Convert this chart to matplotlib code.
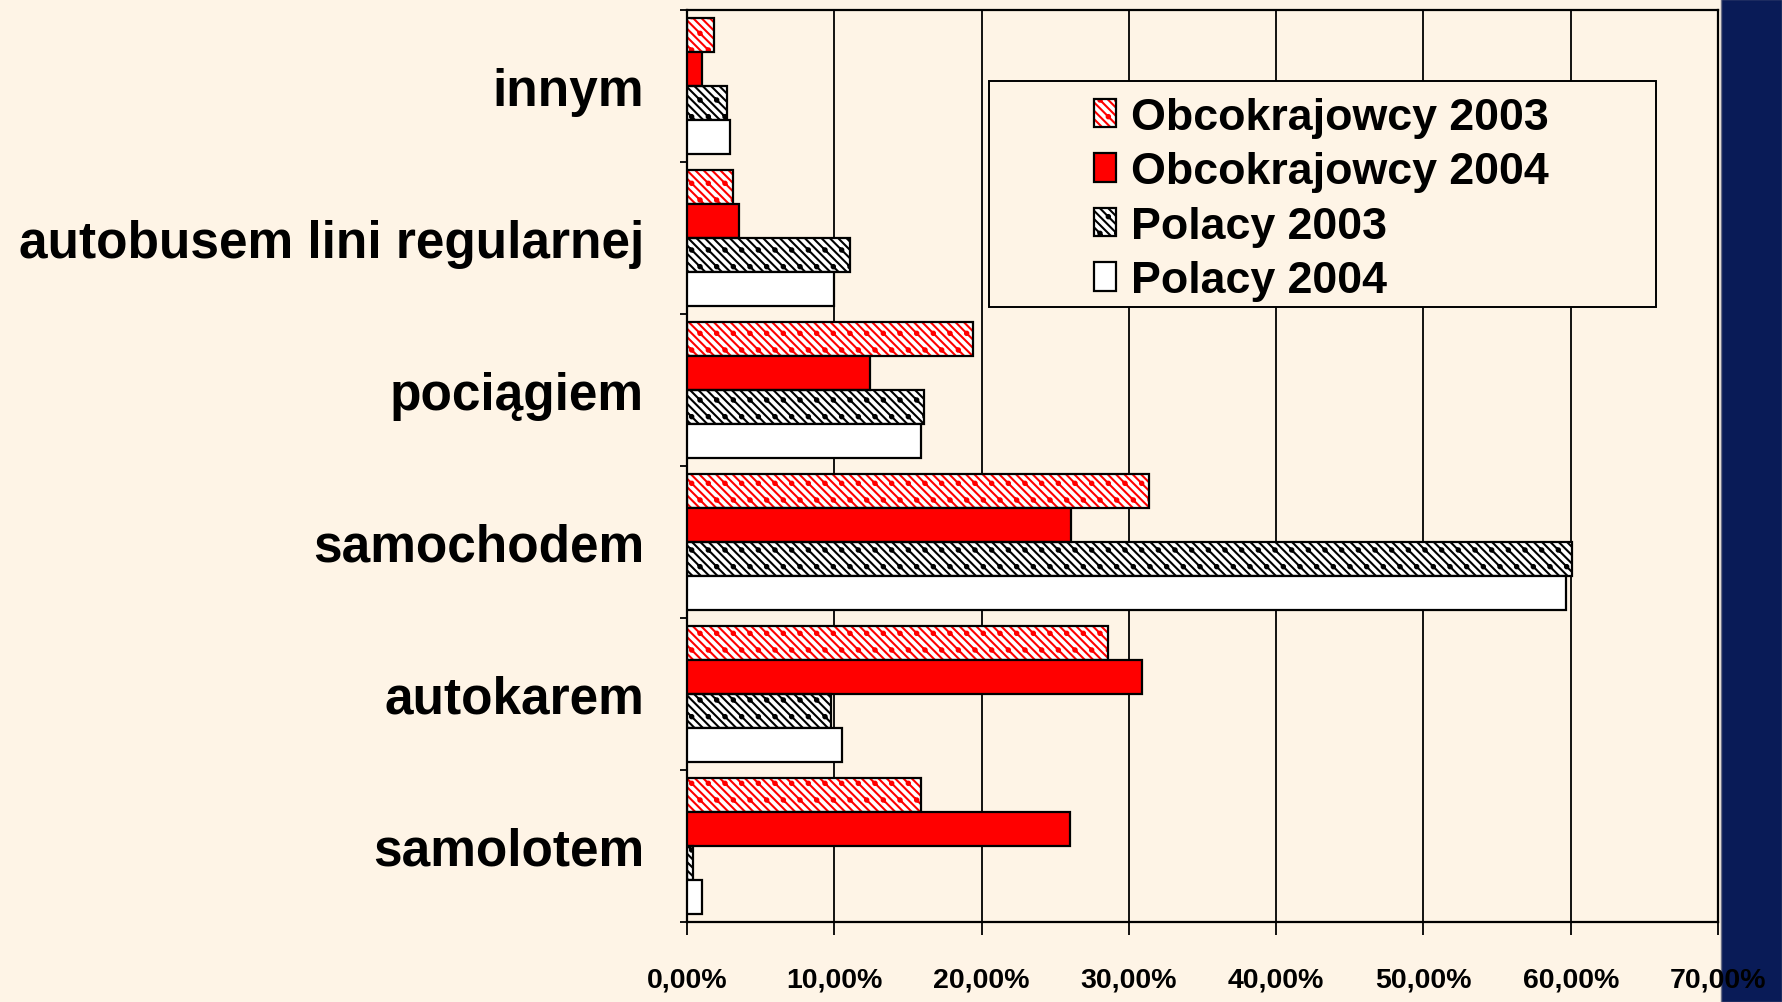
import numpy as np
import matplotlib
matplotlib.use("Agg")
import matplotlib.pyplot as plt
from matplotlib import font_manager as fm
from matplotlib.patches import Rectangle
from matplotlib.legend_handler import HandlerTuple

# ---------------- data ----------------
categories = ["samolotem", "autokarem", "samochodem", "pociągiem",
              "autobusem lini regularnej", "innym"]
obc_2003 = [15.9, 28.6, 31.4, 19.4, 3.1, 1.8]
obc_2004 = [26.0, 30.9, 26.1, 12.4, 3.5, 1.0]
pol_2003 = [0.4, 9.8, 60.1, 16.1, 11.1, 2.7]
pol_2004 = [1.0, 10.5, 59.7, 15.9, 10.0, 2.9]
series_labels = ["Obcokrajowcy 2003", "Obcokrajowcy 2004", "Polacy 2003", "Polacy 2004"]
x_ticks = [0, 10, 20, 30, 40, 50, 60, 70]
x_tick_labels = ["0,00%", "10,00%", "20,00%", "30,00%", "40,00%", "50,00%", "60,00%", "70,00%"]

# ---------------- fonts ----------------
def has_font(fam):
    try:
        fm.findfont(fm.FontProperties(family=fam, weight="bold"), fallback_to_default=False)
        return True
    except Exception:
        return False

if has_font("Liberation Sans Narrow"):
    FAM, K = "Liberation Sans Narrow", 1.0 / 0.82
else:
    FAM, K = "Liberation Sans", 1.0
plt.rcParams["font.family"] = [FAM, "DejaVu Sans"]
plt.rcParams["hatch.linewidth"] = 1.5

BG = "#FEF4E6"
NAVY = "#091B57"

W, H = 1782, 1003
fig = plt.figure(figsize=(W / 100, H / 100), dpi=100, facecolor=BG)
ax = fig.add_axes([687 / W, 1 - 923 / H, (1718 - 687) / W, (923 - 11) / H])
ax.set_facecolor(BG)

# dark strip on the right
fig.add_artist(Rectangle((1721 / W, 0), 1 - 1721 / W, 1, transform=fig.transFigure,
                         facecolor=NAVY, edgecolor="#6b6f86", lw=1.0, zorder=-1))

y = np.arange(len(categories))
h = 0.224
offs = [1.5 * h, 0.5 * h, -0.5 * h, -1.5 * h]
EW = 1.6
HATCH = "\\\\\\\\."

# Obcokrajowcy 2003: red hatched
b1h = ax.barh(y + offs[0], obc_2003, height=h, facecolor="white", edgecolor="red",
              hatch=HATCH, linewidth=0, zorder=2)
b1e = ax.barh(y + offs[0], obc_2003, height=h, fill=False, edgecolor="black",
              linewidth=EW, zorder=3)
# Obcokrajowcy 2004: solid red
b2 = ax.barh(y + offs[1], obc_2004, height=h, facecolor="red", edgecolor="black",
             linewidth=EW, zorder=3)
# Polacy 2003: black hatched
b3h = ax.barh(y + offs[2], pol_2003, height=h, facecolor="white", edgecolor="black",
              hatch=HATCH, linewidth=0, zorder=2)
b3e = ax.barh(y + offs[2], pol_2003, height=h, fill=False, edgecolor="black",
              linewidth=EW, zorder=3)
# Polacy 2004: white
b4 = ax.barh(y + offs[3], pol_2004, height=h, facecolor="white", edgecolor="black",
             linewidth=EW, zorder=3)

ax.set_xlim(0, 70)
ax.set_ylim(-0.5, len(categories) - 0.5)

ax.set_xticks(x_ticks)
ax.set_xticklabels(x_tick_labels, fontsize=20.5 * K, fontweight="bold")
ax.tick_params(axis="x", direction="out", length=9, width=1.3, pad=23, colors="black")

ax.set_yticks(y)
ax.set_yticklabels(categories, fontsize=37 * K, fontweight="bold")
ax.tick_params(axis="y", which="major", length=0, pad=31)
ax.set_yticks(np.arange(-0.5, len(categories), 1.0), minor=True)
ax.tick_params(axis="y", which="minor", direction="out", length=5, width=1.3)

ax.grid(axis="x", color="black", linewidth=1.3)
ax.set_axisbelow(True)
for s in ax.spines.values():
    s.set_color("black")
    s.set_linewidth(1.6)

# legend frame
ax.add_patch(Rectangle((989 / W, 1 - 308 / H), (1656 - 989) / W, (308 - 82) / H,
                       transform=fig.transFigure, facecolor=BG, edgecolor="black",
                       lw=1.4, zorder=4, clip_on=False))
handles = [(b1h.patches[0], b1e.patches[0]), b2.patches[0],
           (b3h.patches[0], b3e.patches[0]), b4.patches[0]]
leg = ax.legend(handles, series_labels,
                handler_map={tuple: HandlerTuple(ndivide=1, pad=0)},
                loc="upper left", bbox_to_anchor=(1094 / W, 1 - 98 / H),
                bbox_transform=fig.transFigure, frameon=False, borderaxespad=0,
                borderpad=0, prop={"family": [FAM, "DejaVu Sans"], "weight": "bold",
                                   "size": 32.2 * K},
                handlelength=0.49, handleheight=0.6, handletextpad=0.33,
                labelspacing=0.3)
leg.set_zorder(5)

fig.savefig("out.png", dpi=100, facecolor=BG)
